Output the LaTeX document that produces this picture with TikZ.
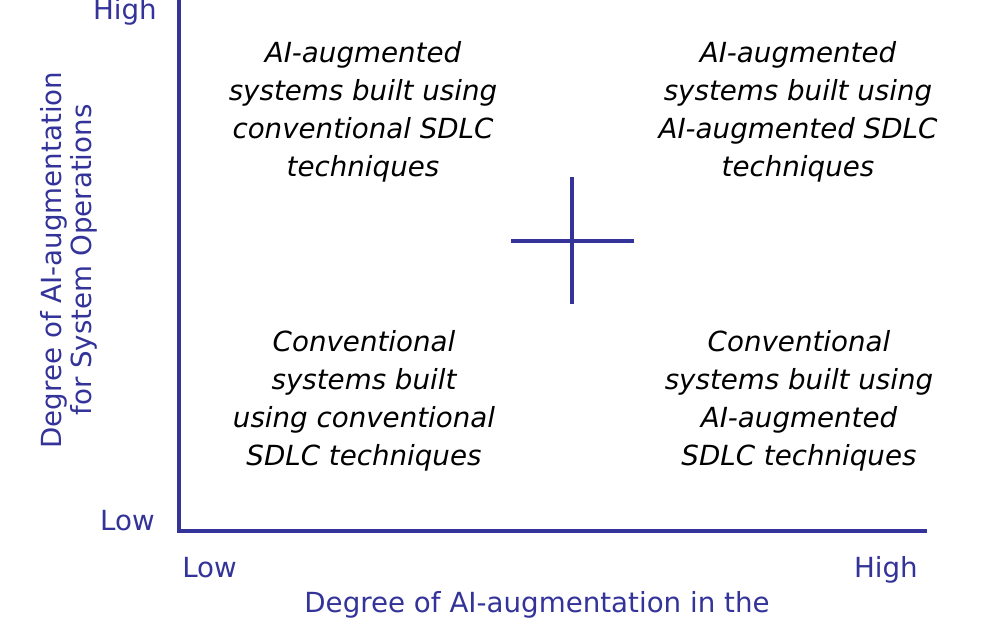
\documentclass[tikz,border=0pt]{standalone}
\usepackage{fontspec}
\setmainfont{DejaVu Sans}
\definecolor{axisc}{RGB}{51,51,153}
\tikzstyle{quad} = [
  align=center,
  inner sep=0pt,
  text=black,
  font=\fontsize{19.7}{26.9}\selectfont\itshape,
]
\tikzstyle{lbl} = [
  inner sep=0pt,
  text=axisc,
  font=\fontsize{19.7}{21.3}\selectfont,
]
\tikzstyle{axis} = [draw=axisc, line width=2.3pt]

\begin{document}
\begin{tikzpicture}[x=0.025cm, y=-0.025cm]
    \useasboundingbox (0,0) rectangle (1000,625);

    \coordinate (O) at (179,531);
    \coordinate (ytop) at (179,-2);
    \coordinate (xend) at (927,531);

    % Axes
    \draw[axis] (ytop) -- (O) -- (xend);

    % Cross
    \coordinate (cn) at (572,177);
    \coordinate (cs) at (572,304);
    \coordinate (cw) at (511,241);
    \coordinate (ce) at (634,241);
    \draw[axis, line width=2.2pt] (cn) -- (cs);
    \draw[axis, line width=2.2pt] (cw) -- (ce);

    % Axis labels
    \node[lbl, anchor=base east] (hiY) at (157,19) {High};
    \node[lbl, anchor=base east] (loY) at (155,530) {Low};
    \node[lbl, anchor=base west] (loX) at (182,577) {Low};
    \node[lbl, anchor=base east] (hiX) at (918,577) {High};
    \node[lbl, anchor=base] (xlab) at (537,612) {Degree of AI-augmentation in the};
    \node[lbl, align=center, rotate=90] (ylab) at (69,260)
        {Degree of AI-augmentation\\for System Operations};

    % Quadrants
    \node[quad] (q2) at (363,112) {AI-augmented\\systems built using\\conventional SDLC\\techniques};
    \node[quad] (q1) at (798,112) {AI-augmented\\systems built using\\AI-augmented SDLC\\techniques};
    \node[quad] (q3) at (364,401) {Conventional\\systems built\\using conventional\\SDLC techniques};
    \node[quad] (q4) at (799,401) {Conventional\\systems built using\\AI-augmented\\SDLC techniques};
\end{tikzpicture}
\end{document}
